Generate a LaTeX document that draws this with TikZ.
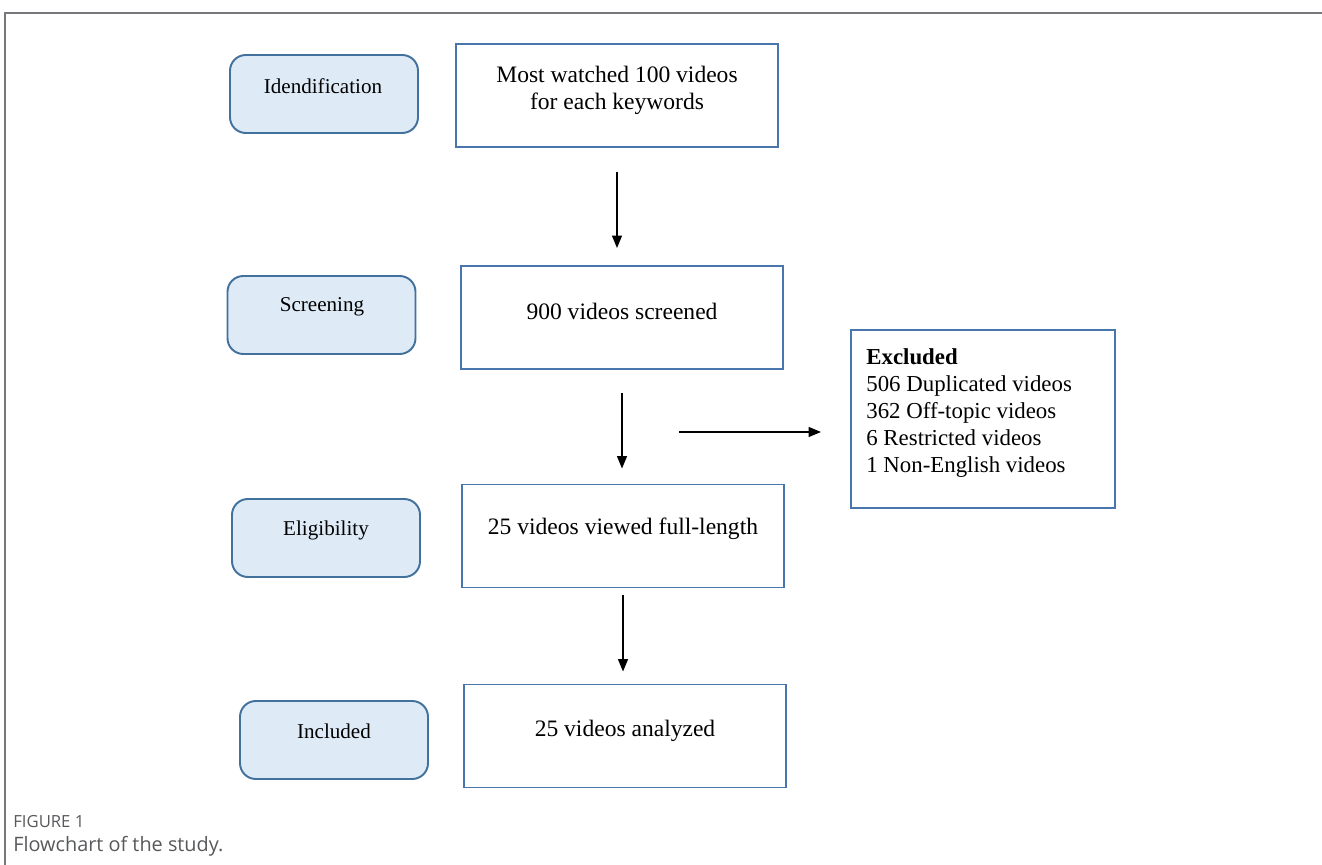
\documentclass[tikz,border=0pt]{standalone}
\usepackage{fontspec}
\setmainfont{Liberation Serif}
\newfontfamily\capfont{Open Sans}
\usetikzlibrary{arrows.meta}
\definecolor{phasefill}{HTML}{DEEBF7}
\definecolor{phaseline}{HTML}{41719C}
\definecolor{boxline}{HTML}{4A76AE}
\definecolor{framegray}{HTML}{77787B}
\definecolor{capgray}{HTML}{58595B}
\tikzset{
  phase/.style={draw=phaseline, fill=phasefill, line width=1.1pt, rounded corners=9pt,
    minimum width=3.76cm, minimum height=1.56cm},
  mainbox/.style={draw=boxline, line width=1.1pt, minimum width=6.44cm, minimum height=2.06cm},
  phasetext/.style={font=\fontsize{12}{14}\selectfont},
  maintext/.style={font=\fontsize{13.4}{15.5}\selectfont, align=center},
  flow/.style={-{Triangle[length=0.25cm,width=0.2cm]}, line width=0.8pt}
}

\begin{document}
\begin{tikzpicture}
\useasboundingbox (0,0) rectangle (26.44,-17.3);
%Frame
\draw[framegray, line width=1.2pt] (26.44,-0.26) -- (0.1,-0.26) -- (0.1,-17.3);

%Phases
\node[phase] (idf) at (6.48,-1.88) {};
\node[phase] (scr) at (6.43,-6.30) {};
\node[phase] (elg) at (6.52,-10.76) {};
\node[phase] (inc) at (6.68,-14.80) {};
\node[phasetext] (idftext) at (6.46,-1.72) {Idendification};
\node[phasetext] (scrtext) at (6.44,-6.14) {Screening};
\node[phasetext] (elgtext) at (6.52,-10.60) {Eligibility};
\node[phasetext] (inctext) at (6.68,-14.62) {Included};

%Steps
\node[mainbox] (most) at (12.34,-1.91) {};
\node[mainbox] (screened) at (12.44,-6.35) {};
\node[mainbox] (viewed) at (12.46,-10.72) {};
\node[mainbox] (analyzed) at (12.50,-14.72) {};
\node[maintext] (mosttext) at (12.34,-1.80) {Most watched 100 videos\\for each keywords};
\node[maintext] (screenedtext) at (12.44,-6.22) {900 videos screened};
\node[maintext] (viewedtext) at (12.46,-10.58) {25 videos viewed full-length};
\node[maintext] (analyzedtext) at (12.50,-14.62) {25 videos analyzed};

%Excluded
\node[draw=boxline, line width=1.1pt, minimum width=5.28cm, minimum height=3.56cm] (excl) at (19.66,-8.38) {};
\node[anchor=north west, inner sep=0pt, align=left, font=\fontsize{13}{15.4}\selectfont] (excltext) at (17.32,-6.96)
  {\textbf{Excluded}\\506 Duplicated videos\\362 Off-topic videos\\6 Restricted videos\\1 Non-English videos};

%Arrows
\draw[flow, shorten <=0.48cm, shorten >=0.34cm] (most.south) -- (most.south |- screened.north);
\draw[flow, shorten <=0.46cm, shorten >=0.30cm] (screened.south) -- (screened.south |- viewed.north);
\draw[flow, shorten <=0.14cm, shorten >=0.24cm] (viewed.south) -- (viewed.south |- analyzed.north);
\coordinate (branch) at (13.58,-8.64);
\draw[flow, shorten >=0.58cm] (branch) -- (branch -| excl.west);

%Caption
\node[anchor=west, inner sep=0pt, text=capgray, font=\capfont\fontsize{9.5}{11}\selectfont] (figlabel) at (0.26,-16.44) {FIGURE 1};
\node[anchor=west, inner sep=0pt, text=capgray, font=\capfont\fontsize{11.3}{14}\selectfont] (figcaption) at (0.26,-16.92) {Flowchart of the study.};
\end{tikzpicture}
\end{document}
